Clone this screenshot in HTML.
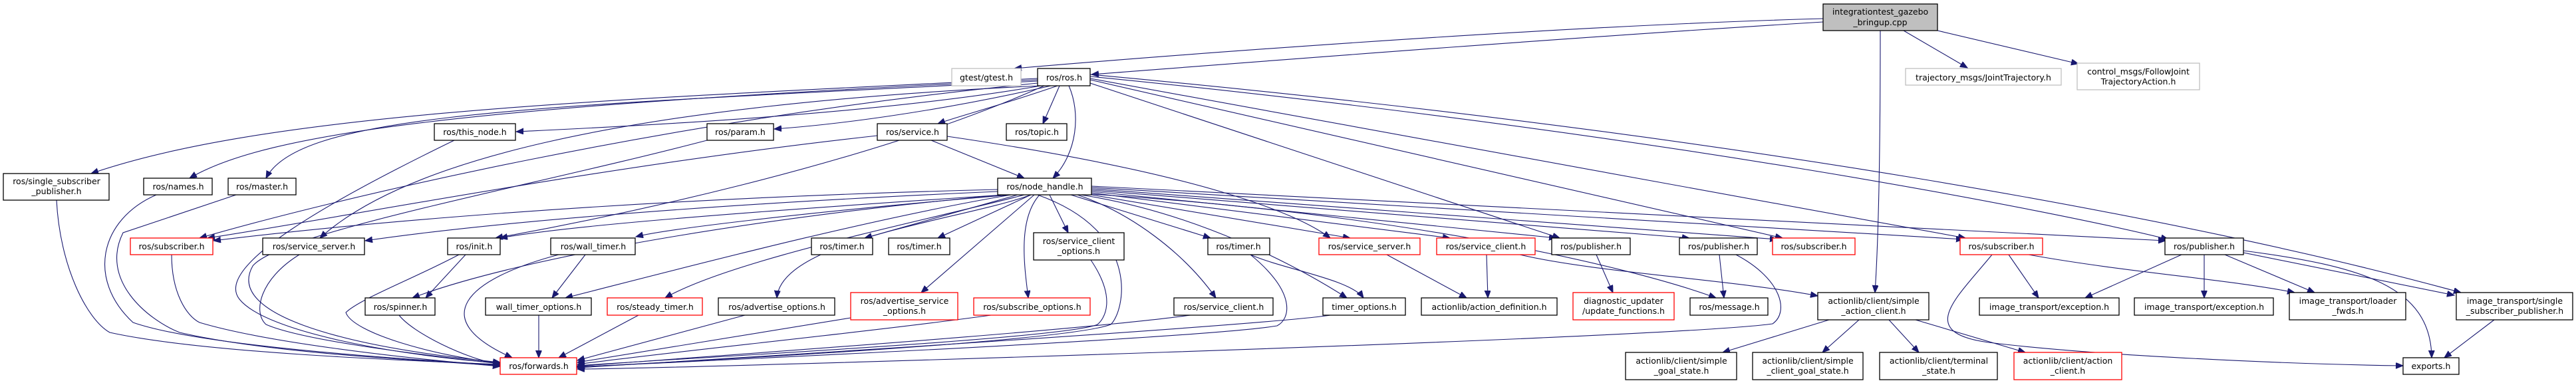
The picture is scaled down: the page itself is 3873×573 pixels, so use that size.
<!DOCTYPE html>
<html><head><meta charset="utf-8"><style>
html,body{margin:0;padding:0;background:#fff;}
svg{display:block;}
text{font-family:"DejaVu Sans","Liberation Sans",sans-serif;font-size:12.5px;fill:#000;text-anchor:middle;}
.n{fill:#fff;stroke:#000;stroke-width:1.3;}
.r{fill:#fff;stroke:#f00;stroke-width:1.3;}
.g{fill:#fff;stroke:#bfbfbf;stroke-width:1.3;}
.e{fill:none;stroke:#191970;stroke-width:1.1;marker-end:url(#a);}
</style></head><body>
<svg width="3873" height="573" viewBox="0 0 3873 573" xmlns="http://www.w3.org/2000/svg">
<defs><marker id="a" markerUnits="userSpaceOnUse" markerWidth="12" markerHeight="10" refX="11" refY="4.5" orient="auto"><path d="M0,0 L11,4.5 L0,9 Z" fill="#191970" stroke="#191970"/></marker></defs>
<g>
<!-- root edges -->
<path class="e" d="M2741,28 C2300,40 1700,88 1525,103"/>
<path class="e" d="M2741,33 C2300,60 1800,100 1641,112"/>
<path class="e" d="M2862,46 L2958,102"/>
<path class="e" d="M2913,46 L3125,96"/>
<path class="e" d="M2827,46 C2827,200 2825,350 2819,440"/>
<!-- ros.h edges -->
<path class="e" d="M1560,118 C900,150 400,170 137,261"/>
<path class="e" d="M1560,120 C700,160 400,200 285,268"/>
<path class="e" d="M1560,122 C800,160 450,170 400,268"/>
<path class="e" d="M1565,129 C1300,175 900,192 776,198"/>
<path class="e" d="M1580,129 C1400,170 1250,188 1164,194"/>
<path class="e" d="M1590,129 C1500,160 1440,175 1410,186"/>
<path class="e" d="M1593,129 L1568,186"/>
<path class="e" d="M1607,129 C1625,170 1620,230 1583,268"/>
<path class="e" d="M1570,129 C1300,250 900,330 745,358"/>
<path class="e" d="M1565,129 C900,160 600,250 481,358"/>
<path class="e" d="M1560,125 C1000,180 500,300 300,358"/>
<path class="e" d="M1639,125 L2345,358"/>
<path class="e" d="M1639,120 L2680,358"/>
<path class="e" d="M1639,118 L2955,358"/>
<path class="e" d="M1639,115 C2500,200 3100,320 3260,360"/>
<path class="e" d="M1639,112 C2600,200 3300,330 3700,440"/>
<!-- service.h -->
<path class="e" d="M1400,211 L1540,268"/>
<path class="e" d="M1319,204 C900,250 500,330 312,358"/>
<path class="e" d="M1424,205 C1800,260 1950,320 2000,358"/>
<!-- node_handle edges -->
<path class="e" d="M1500,285 C900,300 500,340 321,362"/>
<path class="e" d="M1500,288 C1000,310 700,340 549,362"/>
<path class="e" d="M1510,293 C1200,320 800,380 620,448"/>
<path class="e" d="M1510,293 C1100,320 850,340 752,358"/>
<path class="e" d="M1520,293 C1200,320 1000,345 956,356"/>
<path class="e" d="M1520,293 C1300,330 1000,410 850,448"/>
<path class="e" d="M1540,293 C1400,330 1100,390 1000,448"/>
<path class="e" d="M1550,293 C1450,330 1175,360 1168,448"/>
<path class="e" d="M1530,293 L1300,358"/>
<path class="e" d="M1550,293 L1410,358"/>
<path class="e" d="M1555,293 L1385,440"/>
<path class="e" d="M1563,293 C1530,330 1540,400 1546,448"/>
<path class="e" d="M1578,293 L1606,350"/>
<path class="e" d="M1610,293 L1820,358"/>
<path class="e" d="M1620,293 C1700,320 1780,380 1828,448"/>
<path class="e" d="M1625,293 C1800,320 1950,400 2025,448"/>
<path class="e" d="M1641,293 L2030,358"/>
<path class="e" d="M1641,290 L2180,358"/>
<path class="e" d="M1641,288 L2340,358"/>
<path class="e" d="M1641,286 L2540,358"/>
<path class="e" d="M1641,292 C2100,320 2450,400 2580,448"/>
<path class="e" d="M1641,284 L2672,360"/>
<path class="e" d="M1641,282 L2952,360"/>
<path class="e" d="M1641,280 L3256,362"/>
<path class="e" d="M1560,293 C1720,350 1690,470 1670,488 C1600,515 1000,545 868,552"/>
<!-- lower level -->
<path class="e" d="M700,383 L640,448"/>
<path class="e" d="M880,383 L830,448"/>
<path class="e" d="M1880,383 C1930,405 2030,420 2050,448"/>
<path class="e" d="M2085,383 L2205,448"/>
<path class="e" d="M2235,383 L2237,448"/>
<path class="e" d="M2285,383 C2400,410 2600,420 2733,445"/>
<path class="e" d="M2400,383 L2425,440"/>
<path class="e" d="M2585,383 L2592,448"/>
<path class="e" d="M3020,383 L3065,448"/>
<path class="e" d="M3050,383 C3200,410 3350,420 3450,440"/>
<path class="e" d="M2995,383 C2940,450 2880,500 2990,515 C3150,535 3450,548 3613,550"/>
<path class="e" d="M3314,383 L3314,448"/>
<path class="e" d="M3280,383 L3135,448"/>
<path class="e" d="M3345,383 L3480,440"/>
<path class="e" d="M3373,380 L3690,444"/>
<path class="e" d="M3373,377 C3550,400 3655,430 3656,538"/>
<path class="e" d="M3750,481 L3675,538"/>
<path class="e" d="M2750,481 L2590,530"/>
<path class="e" d="M2795,481 L2740,530"/>
<path class="e" d="M2840,481 L2885,530"/>
<path class="e" d="M2880,481 L3045,530"/>
<!-- to forwards -->
<path class="e" d="M85,301 C90,400 130,480 165,500 C300,530 600,542 752,548"/>
<path class="e" d="M235,293 C150,330 130,420 200,485 C300,520 600,540 752,549"/>
<path class="e" d="M355,293 L185,350 C150,420 220,480 270,500 C400,530 600,540 752,550"/>
<path class="e" d="M258,383 C258,440 280,475 300,485 C400,515 600,538 752,551"/>
<path class="e" d="M450,383 C390,420 380,470 400,488 C450,510 600,530 752,547"/>
<path class="e" d="M683,211 C500,300 320,400 360,450 C400,500 600,535 752,546"/>
<path class="e" d="M1063,211 C800,280 420,350 380,400 C340,470 500,520 752,545"/>
<path class="e" d="M600,474 C620,500 700,540 752,548"/>
<path class="e" d="M690,383 C620,420 540,450 520,470 C530,500 650,535 752,546"/>
<path class="e" d="M840,383 C700,420 640,480 770,538"/>
<path class="e" d="M810,474 L810,538"/>
<path class="e" d="M960,474 L840,538"/>
<path class="e" d="M1120,474 L868,542"/>
<path class="e" d="M1279,478 L868,545"/>
<path class="e" d="M1490,474 C1300,500 1000,530 868,548"/>
<path class="e" d="M1640,391 C1680,450 1660,480 1650,488 C1600,510 1000,540 868,550"/>
<path class="e" d="M1790,474 C1600,500 1000,540 868,551"/>
<path class="e" d="M1880,383 C1950,440 1940,480 1920,490 C1800,510 1000,545 868,552"/>
<path class="e" d="M2000,474 C1900,490 1000,545 868,553"/>
<path class="e" d="M2610,383 C2680,420 2690,470 2665,487 C2500,510 1000,555 868,555"/>
</g>
<g>
<rect x="2741" y="6" width="172" height="40" fill="#bfbfbf" stroke="#000" stroke-width="1.3"/>
<text x="2827" y="22">integrationtest_gazebo</text><text x="2827" y="38">_bringup.cpp</text>
<rect class="g" x="1431" y="103" width="104" height="26"/><text x="1483" y="121">gtest/gtest.h</text>
<rect class="n" x="1560" y="103" width="79" height="26"/><text x="1600" y="121">ros/ros.h</text>
<rect class="g" x="2865" y="103" width="234" height="25"/><text x="2982" y="121">trajectory_msgs/JointTrajectory.h</text>
<rect class="g" x="3123" y="95" width="184" height="40"/><text x="3215" y="112">control_msgs/FollowJoint</text><text x="3215" y="127">TrajectoryAction.h</text>
<rect class="n" x="5" y="261" width="159" height="40"/><text x="85" y="277">ros/single_subscriber</text><text x="85" y="292">_publisher.h</text>
<rect class="n" x="216" y="268" width="103" height="25"/><text x="268" y="285">ros/names.h</text>
<rect class="n" x="343" y="268" width="102" height="25"/><text x="394" y="285">ros/master.h</text>
<rect class="n" x="653" y="186" width="122" height="25"/><text x="714" y="203">ros/this_node.h</text>
<rect class="n" x="1063" y="186" width="100" height="25"/><text x="1113" y="203">ros/param.h</text>
<rect class="n" x="1319" y="186" width="105" height="25"/><text x="1372" y="203">ros/service.h</text>
<rect class="n" x="1513" y="186" width="91" height="25"/><text x="1559" y="203">ros/topic.h</text>
<rect class="n" x="1500" y="268" width="141" height="25"/><text x="1571" y="285">ros/node_handle.h</text>
<rect class="r" x="196" y="358" width="124" height="25"/><text x="258" y="375">ros/subscriber.h</text>
<rect class="n" x="395" y="358" width="153" height="25"/><text x="472" y="375">ros/service_server.h</text>
<rect class="n" x="673" y="358" width="79" height="25"/><text x="713" y="375">ros/init.h</text>
<rect class="n" x="828" y="358" width="127" height="25"/><text x="892" y="375">ros/wall_timer.h</text>
<rect class="n" x="1220" y="358" width="92" height="25"/><text x="1266" y="375">ros/timer.h</text>
<rect class="n" x="1336" y="358" width="92" height="25"/><text x="1382" y="375">ros/timer.h</text>
<rect class="n" x="1554" y="350" width="136" height="41"/><text x="1622" y="367">ros/service_client</text><text x="1622" y="382">_options.h</text>
<rect class="n" x="1816" y="358" width="93" height="25"/><text x="1862" y="375">ros/timer.h</text>
<rect class="r" x="1983" y="358" width="152" height="25"/><text x="2059" y="375">ros/service_server.h</text>
<rect class="r" x="2160" y="358" width="148" height="25"/><text x="2234" y="375">ros/service_client.h</text>
<rect class="n" x="2333" y="358" width="118" height="25"/><text x="2392" y="375">ros/publisher.h</text>
<rect class="n" x="2525" y="358" width="117" height="25"/><text x="2584" y="375">ros/publisher.h</text>
<rect class="r" x="2665" y="358" width="124" height="25"/><text x="2727" y="375">ros/subscriber.h</text>
<rect class="r" x="2947" y="358" width="124" height="25"/><text x="3009" y="375">ros/subscriber.h</text>
<rect class="n" x="3255" y="358" width="118" height="25"/><text x="3314" y="375">ros/publisher.h</text>
<rect class="n" x="549" y="448" width="105" height="26"/><text x="602" y="466">ros/spinner.h</text>
<rect class="n" x="730" y="448" width="159" height="26"/><text x="810" y="466">wall_timer_options.h</text>
<rect class="r" x="913" y="448" width="143" height="26"/><text x="985" y="466">ros/steady_timer.h</text>
<rect class="n" x="1080" y="448" width="175" height="26"/><text x="1168" y="466">ros/advertise_options.h</text>
<rect class="r" x="1279" y="440" width="161" height="41"/><text x="1360" y="457">ros/advertise_service</text><text x="1360" y="472">_options.h</text>
<rect class="r" x="1464" y="448" width="175" height="26"/><text x="1552" y="466">ros/subscribe_options.h</text>
<rect class="n" x="1765" y="448" width="149" height="26"/><text x="1840" y="466">ros/service_client.h</text>
<rect class="n" x="1989" y="448" width="124" height="26"/><text x="2051" y="466">timer_options.h</text>
<rect class="n" x="2137" y="448" width="204" height="26"/><text x="2239" y="466">actionlib/action_definition.h</text>
<rect class="r" x="2365" y="440" width="152" height="41"/><text x="2441" y="457">diagnostic_updater</text><text x="2441" y="472">/update_functions.h</text>
<rect class="n" x="2541" y="448" width="117" height="26"/><text x="2600" y="466">ros/message.h</text>
<rect class="n" x="2733" y="440" width="167" height="41"/><text x="2817" y="457">actionlib/client/simple</text><text x="2817" y="472">_action_client.h</text>
<rect class="n" x="2976" y="448" width="210" height="26"/><text x="3081" y="466">image_transport/exception.h</text>
<rect class="n" x="3209" y="448" width="209" height="26"/><text x="3314" y="466">image_transport/exception.h</text>
<rect class="n" x="3442" y="440" width="175" height="41"/><text x="3530" y="457">image_transport/loader</text><text x="3530" y="472">_fwds.h</text>
<rect class="n" x="3693" y="440" width="175" height="41"/><text x="3781" y="457">image_transport/single</text><text x="3781" y="472">_subscriber_publisher.h</text>
<rect class="r" x="752" y="538" width="115" height="25"/><text x="810" y="555">ros/forwards.h</text>
<rect class="n" x="3613" y="538" width="84" height="25"/><text x="3655" y="555">exports.h</text>
<rect class="n" x="2444" y="530" width="167" height="41"/><text x="2528" y="547">actionlib/client/simple</text><text x="2528" y="562">_goal_state.h</text>
<rect class="n" x="2635" y="530" width="166" height="41"/><text x="2718" y="547">actionlib/client/simple</text><text x="2718" y="562">_client_goal_state.h</text>
<rect class="n" x="2826" y="530" width="177" height="41"/><text x="2915" y="547">actionlib/client/terminal</text><text x="2915" y="562">_state.h</text>
<rect class="r" x="3028" y="530" width="162" height="41"/><text x="3109" y="547">actionlib/client/action</text><text x="3109" y="562">_client.h</text>
</g>
</svg>
</body></html>
